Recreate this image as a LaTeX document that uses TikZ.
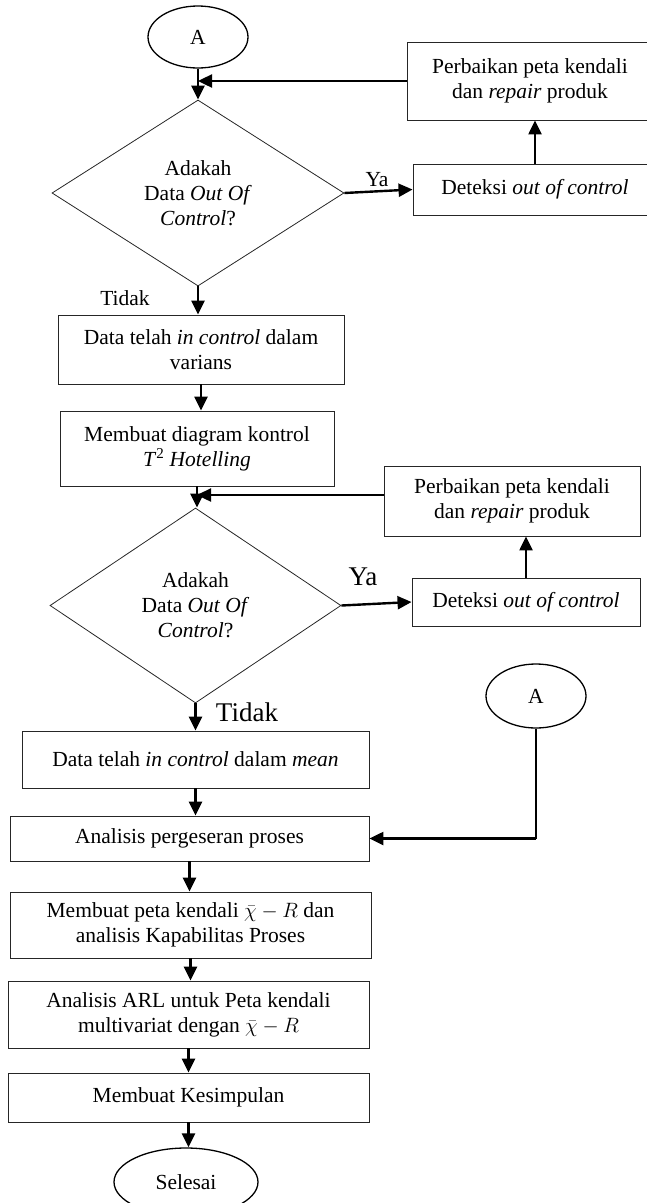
\documentclass[tikz,border=0pt]{standalone}
\usepackage{fontspec}
\setmainfont{Liberation Serif}
\usetikzlibrary{shapes.geometric,arrows.meta,calc}
\begin{document}
\begin{tikzpicture}[x=1pt,y=-1pt,
  every node/.style={font=\fontsize{21.5}{25}\selectfont, align=center, inner sep=0pt},
  procbox/.style={draw=black!85, line width=0.9pt},
  decision/.style={draw=black!85, line width=0.8pt, shape=diamond},
  terminal/.style={draw=black, line width=1.3pt, shape=ellipse},
  biglabel/.style={font=\fontsize{27}{30}\selectfont},
  flow/.style={line width=2.4pt, -{Triangle[width=13pt,length=14pt]}}]
\useasboundingbox (0,0) rectangle (647,1203);

% upper loop: variance check
\node[terminal, minimum width=100pt, minimum height=62pt] (a1) at (198,37) {A};
\node[decision, minimum width=292pt, minimum height=186pt] (dia1) at (198,193)
  {Adakah\\Data \textit{Out Of}\\\textit{Control}?};
\node[procbox, minimum width=246pt, minimum height=78pt] (per1) at (530,81)
  {Perbaikan peta kendali\\dan \textit{repair} produk};
\node[procbox, minimum width=244pt, minimum height=51pt] (det1) at (535,189.5)
  {Deteksi \textit{out of control}};
\node (ya1) at (377,180) {Ya};
\node (td1) at (125,298) {Tidak};

\node[procbox, minimum width=286pt, minimum height=69pt] (b1) at (201,349.5)
  {Data telah \textit{in control} dalam\\varians};
\node[procbox, minimum width=274pt, minimum height=75pt] (b2) at (197,448.5)
  {Membuat diagram kontrol\\\textit{T}\textsuperscript{2} \textit{Hotelling}};

% lower loop: mean check
\node[decision, minimum width=291pt, minimum height=195pt] (dia2) at (195.5,605.5)
  {Adakah\\Data \textit{Out Of}\\\textit{Control}?};
\node[procbox, minimum width=256pt, minimum height=70pt] (per2) at (512,501)
  {Perbaikan peta kendali\\dan \textit{repair} produk};
\node[procbox, minimum width=228pt, minimum height=48pt] (det2) at (526,602)
  {Deteksi \textit{out of control}};
\node[biglabel] (ya2) at (363,577) {Ya};
\node[biglabel] (td2) at (247,712) {Tidak};
\node[terminal, minimum width=100pt, minimum height=64pt] (a2) at (536,696) {A};

\node[procbox, minimum width=347pt, minimum height=57pt] (b3) at (195.5,759.5)
  {Data telah \textit{in control} dalam \textit{mean}};
\node[procbox, minimum width=359pt, minimum height=45pt] (b4) at (189.5,838.5)
  {Analisis pergeseran proses};
\node[procbox, minimum width=361pt, minimum height=66pt] (b5) at (190.5,925)
  {Membuat peta kendali $\bar{\chi}-R$ dan\\analisis Kapabilitas Proses};
\node[procbox, minimum width=361pt, minimum height=67pt] (b6) at (188.5,1014.5)
  {Analisis ARL untuk Peta kendali\\multivariat dengan $\bar{\chi}-R$};
\node[procbox, minimum width=361pt, minimum height=49pt] (b7) at (188.5,1097.5)
  {Membuat Kesimpulan};
\node[terminal, minimum width=144pt, minimum height=68pt] (end) at (186,1182) {Selesai};

% connectors
\draw[flow] (a1.south) -- (dia1.north);
\draw[flow] (per1.west) -- (per1.west -| a1.south);
\draw[flow] (dia1.east) -- (det1.west);
\draw[flow] (det1.north) -- (det1.north |- per1.south);
\draw[flow] (dia1.south) -- (dia1.south |- b1.north);
\draw[flow] (b1.south) -- (b1.south |- b2.north);
\draw[flow] (b2.south) -- (b2.south |- dia2.north);
\draw[flow] ([yshift=6pt]per2.west) -- ([yshift=6pt]per2.west -| b2.south);
\draw[flow] (dia2.east) -- (det2.west);
\draw[flow] (det2.north) -- (det2.north |- per2.south);
\draw[flow] (dia2.south) -- (dia2.south |- b3.north);
\draw[flow] (b3.south) -- (b3.south |- b4.north);
\coordinate (k) at (a2.south |- b4.east);
\draw[line width=1.3pt] (a2.south) -- (k);
\draw[flow] (k) -- (b4.east);
\draw[flow] (b4.south) -- (b4.south |- b5.north);
\draw[flow] (b5.south) -- (b5.south |- b6.north);
\draw[flow] (b6.south) -- (b6.south |- b7.north);
\draw[flow] (b7.south) -- (b7.south |- end.north);
\end{tikzpicture}
\end{document}
